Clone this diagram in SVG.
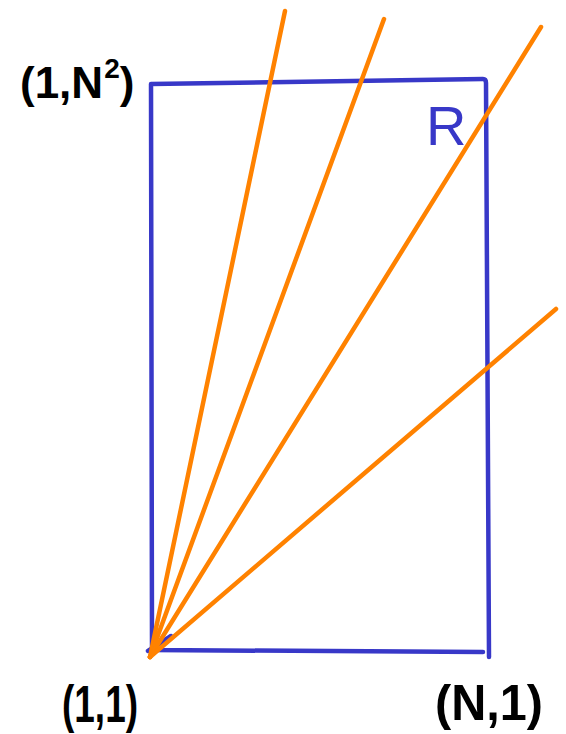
<svg xmlns="http://www.w3.org/2000/svg" width="566" height="734" viewBox="0 0 566 734">
<style>
.blue{fill:none;stroke:#3838c8;stroke-width:4.5;stroke-linecap:round;stroke-linejoin:round}
.ray{fill:none;stroke:#ff8200;stroke-width:4.5;stroke-linecap:round}
.lbl{font-family:"Liberation Sans","DejaVu Sans",sans-serif;font-weight:bold;fill:#000}
</style>
<rect width="566" height="734" fill="#fff"/>
<g id="region-R">
<path class="blue" d="M151,84 L152,650 M152,650 L483,652 M151,84 L483,79 Q486,79 486,83 L489,657 M148,651 L171,636"/>
<text x="426" y="145" font-size="56" style="font-family:'Liberation Sans','DejaVu Sans',sans-serif;fill:#3838c8">R</text>
</g>
<g id="connectors">
<line class="ray" x1="150" y1="657" x2="285" y2="11"/>
<line class="ray" x1="150" y1="657" x2="384" y2="19"/>
<line class="ray" x1="150" y1="657" x2="541" y2="27"/>
<line class="ray" x1="150" y1="657" x2="556" y2="309"/>
</g>
<g id="label-1-N2">
<text class="lbl" x="20" y="98" font-size="44">(1,N<tspan font-size="28" dx="1" dy="-20">2</tspan><tspan dy="20">)</tspan></text>
</g>
<g id="label-1-1">
<text class="lbl" x="62" y="722" font-size="52" textLength="76" lengthAdjust="spacingAndGlyphs">(1,1)</text>
</g>
<g id="label-N-1">
<text class="lbl" x="435" y="720" font-size="50" textLength="108" lengthAdjust="spacingAndGlyphs">(N,1)</text>
</g>
</svg>
